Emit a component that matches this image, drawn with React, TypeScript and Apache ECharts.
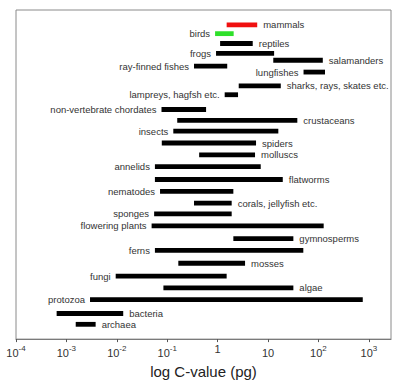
import React, { useEffect, useRef } from "react";
import * as echarts from "echarts";

// Genome size ranges (C-value, pg)
const taxa = [
  "mammals", "birds", "reptiles", "frogs", "salamanders", "ray-finned fishes",
  "lungfishes", "sharks, rays, skates etc.", "lampreys, hagfsh etc.",
  "non-vertebrate chordates", "crustaceans", "insects", "spiders", "molluscs",
  "annelids", "flatworms", "nematodes", "corals, jellyfish etc.", "sponges",
  "flowering plants", "gymnosperms", "ferns", "mosses", "fungi", "algae",
  "protozoa", "bacteria", "archaea",
];
const minC = [
  1.51, 0.89, 1.12, 0.93, 12.7, 0.34, 50.6, 2.62, 1.38, 0.077, 0.158, 0.132,
  0.078, 0.43, 0.057, 0.057, 0.072, 0.34, 0.055, 0.049, 2.05, 0.057, 0.166,
  0.0095, 0.084, 0.00294, 0.00064, 0.00153,
];
const maxC = [
  6.1, 2.08, 4.97, 13.2, 122, 1.55, 135, 17.9, 2.54, 0.59, 38.1, 16.0, 5.78,
  5.52, 7.16, 19.6, 2.05, 1.9, 1.9, 127, 31.8, 50.1, 3.5, 1.51, 31.8, 757,
  0.0134, 0.0038,
];
// vertical placement of each taxon (row level, bottom = 0)
const rowLevel = [
  31.9, 31.0, 30.0, 29.0, 28.3, 27.7, 27.1, 25.7, 24.8, 23.3, 22.2, 21.1, 19.9,
  18.7, 17.5, 16.2, 15.0, 13.8, 12.7, 11.5, 10.2, 9.0, 7.7, 6.4, 5.2, 4.0, 2.6,
  1.5,
];
const labelSide = [
  "right", "left", "right", "left", "right", "left", "left", "right", "left",
  "left", "right", "left", "right", "right", "left", "right", "left", "right",
  "left", "left", "right", "left", "right", "left", "right", "left", "right",
  "right",
];
const tickValues = [0.0001, 0.001, 0.01, 0.1, 1, 10, 100, 1000];

const barColor = (name: string) =>
  name === "mammals" ? "#f01010" : name === "birds" ? "#2ee02a" : "#000000";

export default function App() {
  const ref = useRef<HTMLDivElement>(null);
  useEffect(() => {
    if (!ref.current) return;
    const chart = echarts.init(ref.current, undefined, { renderer: "svg" });
    const data = taxa.map((t, i) => [minC[i], maxC[i], rowLevel[i]]);
    const font = "'Liberation Sans', Arial, sans-serif";
    chart.setOption({
      animation: false,
      grid: {
        left: 16,
        right: 9,
        top: 10,
        bottom: 40,
        show: true,
        borderColor: "#8a8a8a",
        borderWidth: 1,
      },
      xAxis: {
        type: "log",
        logBase: 10,
        min: 0.0001,
        max: 2750,
        interval: 1,
        splitLine: { show: false },
        minorTick: { show: false },
        axisLine: { show: true, lineStyle: { color: "#7a7a7a", width: 1 } },
        axisTick: {
          show: true,
          length: 3,
          lineStyle: { color: "#555" },
          customValues: tickValues,
        },
        axisLabel: {
          customValues: tickValues,
          margin: 5,
          fontFamily: font,
          color: "#333",
          formatter: (v: number) => {
            const n = Math.round(Math.log10(v));
            if (Math.abs(Math.log10(v) - n) > 1e-6) return "";
            if (n === 0) return "{one|1}";
            if (n === 1) return "{b|10}";
            return "{b|10}{s|" + n + "}";
          },
          rich: {
            b: { fontSize: 11, fontFamily: font, color: "#333", lineHeight: 14, verticalAlign: "bottom" },
            s: { fontSize: 8, fontFamily: font, color: "#333", lineHeight: 14, verticalAlign: "top" },
            one: { fontSize: 11, fontFamily: font, color: "#333", lineHeight: 14, padding: [0, 0, 5, 0] },
          },
        },
        name: "log C-value (pg)",
        nameLocation: "middle",
        nameGap: 22,
        nameTextStyle: { fontSize: 15, fontFamily: font, color: "#222" },
      },
      yAxis: {
        type: "value",
        min: 0,
        max: 33.4,
        show: false,
      },
      series: [
        {
          type: "custom",
          clip: false,
          encode: { x: [0, 1], y: 2 },
          data,
          renderItem: (params: any, api: any) => {
            const i = params.dataIndex;
            const y = api.value(2);
            const p0 = api.coord([api.value(0), y]);
            const p1 = api.coord([api.value(1), y]);
            const h = 4.8;
            const left = labelSide[i] === "left";
            return {
              type: "group",
              children: [
                {
                  type: "rect",
                  shape: { x: p0[0], y: p0[1] - h / 2, width: p1[0] - p0[0], height: h },
                  style: { fill: barColor(taxa[i]) },
                },
                {
                  type: "text",
                  style: {
                    text: taxa[i],
                    x: left ? p0[0] - 5 : p1[0] + 6,
                    y: p0[1],
                    align: left ? "right" : "left",
                    verticalAlign: "middle",
                    fontSize: 9.5,
                    fontFamily: font,
                    fill: "#333",
                  },
                },
              ],
            };
          },
        },
      ],
    });
    return () => chart.dispose();
  }, []);
  return (
    <div
      ref={ref}
      style={{ position: "absolute", left: 0, top: 0, width: 400, height: 384 }}
    />
  );
}
